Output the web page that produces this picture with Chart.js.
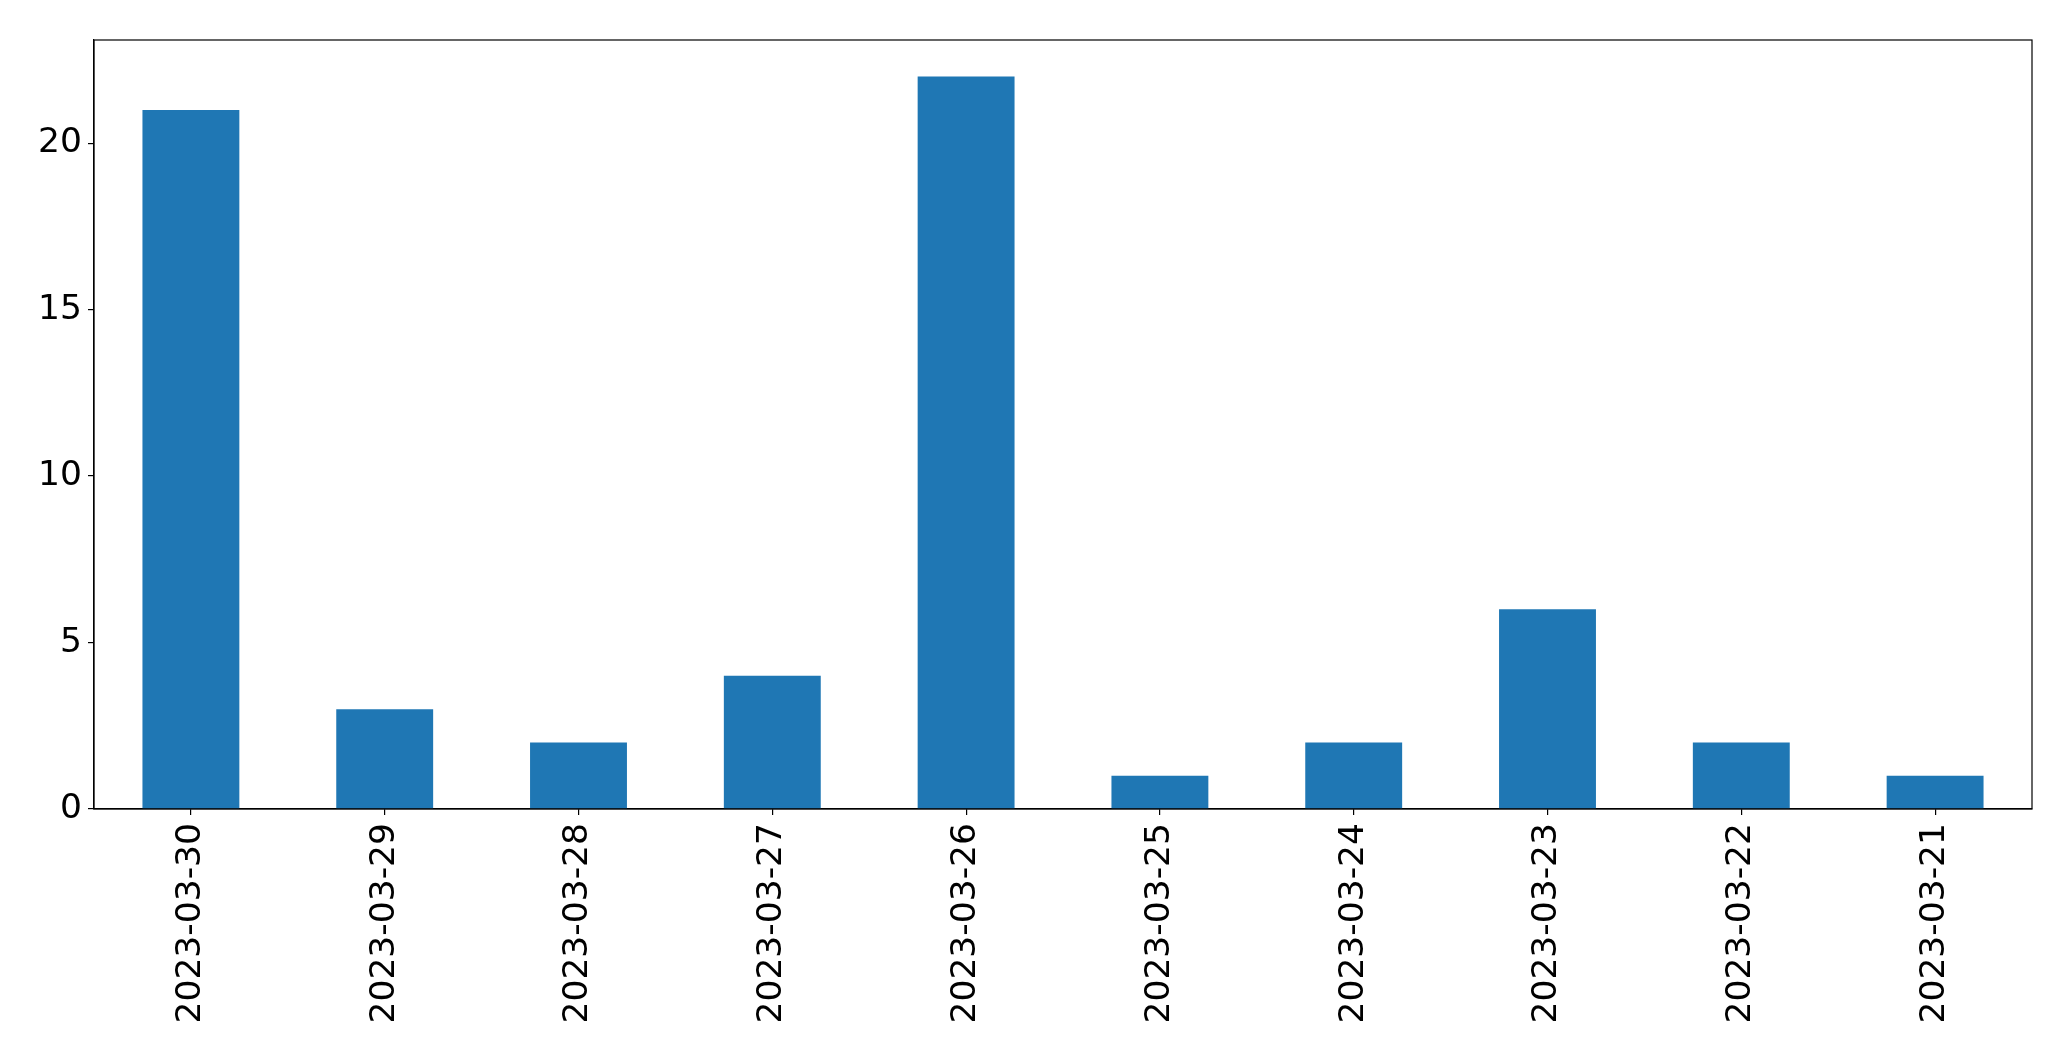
<!DOCTYPE html>
<html lang="en">
<head>
  <meta charset="UTF-8" />
  <title>Daily counts</title>
  <script src="https://cdn.jsdelivr.net/npm/chart.js"></script>
  <style>
    body {
      margin: 0;
      padding: 0;
      background: #fff;
    }
    canvas {
      display: block;
    }
  </style>
</head>
<body>
  <canvas id="chart" width="2071" height="1061"></canvas>

  <script>
    // data
    const dates = ['2023-03-30', '2023-03-29', '2023-03-28', '2023-03-27', '2023-03-26',
                   '2023-03-25', '2023-03-24', '2023-03-23', '2023-03-22', '2023-03-21'];
    const counts = [21, 3, 2, 4, 22, 1, 2, 6, 2, 1];
    const yTicks = [0, 5, 10, 15, 20];
    const yMax = 23.1;

    const fontSpec = { family: 'DejaVu Sans', size: 34.5 };

    // box round the whole plot area, like matplotlib spines
    const frame = {
      id: 'frame',
      afterDraw(chart) {
        const a = chart.chartArea;
        const ctx = chart.ctx;
        ctx.save();
        ctx.strokeStyle = '#000';
        ctx.lineWidth = 1.2;
        ctx.strokeRect(a.left, a.top, a.right - a.left, a.bottom - a.top);
        ctx.restore();
      }
    };

    new Chart(document.getElementById('chart'), {
      type: 'bar',
      data: {
        labels: dates,
        datasets: [{
          data: counts,
          backgroundColor: '#1f77b4',
          borderWidth: 0,
          categoryPercentage: 1.0,
          barPercentage: 0.5
        }]
      },
      options: {
        responsive: false,
        animation: false,
        devicePixelRatio: 1,
        layout: { padding: { top: 40, right: 39, left: 0, bottom: 0 } },
        plugins: {
          legend: { display: false },
          tooltip: { enabled: false }
        },
        scales: {
          x: {
            offset: true,
            grid: {
              offset: false,
              drawOnChartArea: false,
              drawTicks: true,
              tickLength: 6,
              tickColor: '#000',
              lineWidth: 1.2
            },
            border: { display: true, color: '#000', width: 1.2 },
            ticks: {
              color: '#000',
              font: fontSpec,
              minRotation: 90,
              maxRotation: 90,
              autoSkip: false,
              padding: 8
            },
            afterFit(scale) { scale.height = 252; }
          },
          y: {
            min: 0,
            max: yMax,
            grid: {
              drawOnChartArea: false,
              drawTicks: true,
              tickLength: 6,
              tickColor: '#000',
              lineWidth: 1.2
            },
            border: { display: true, color: '#000', width: 1.2 },
            afterBuildTicks(scale) {
              scale.ticks = yTicks.map(v => ({ value: v }));
            },
            ticks: {
              color: '#000',
              font: fontSpec,
              padding: 6
            },
            afterFit(scale) { scale.width = 94; }
          }
        }
      },
      plugins: [frame]
    });
  </script>
</body>
</html>
